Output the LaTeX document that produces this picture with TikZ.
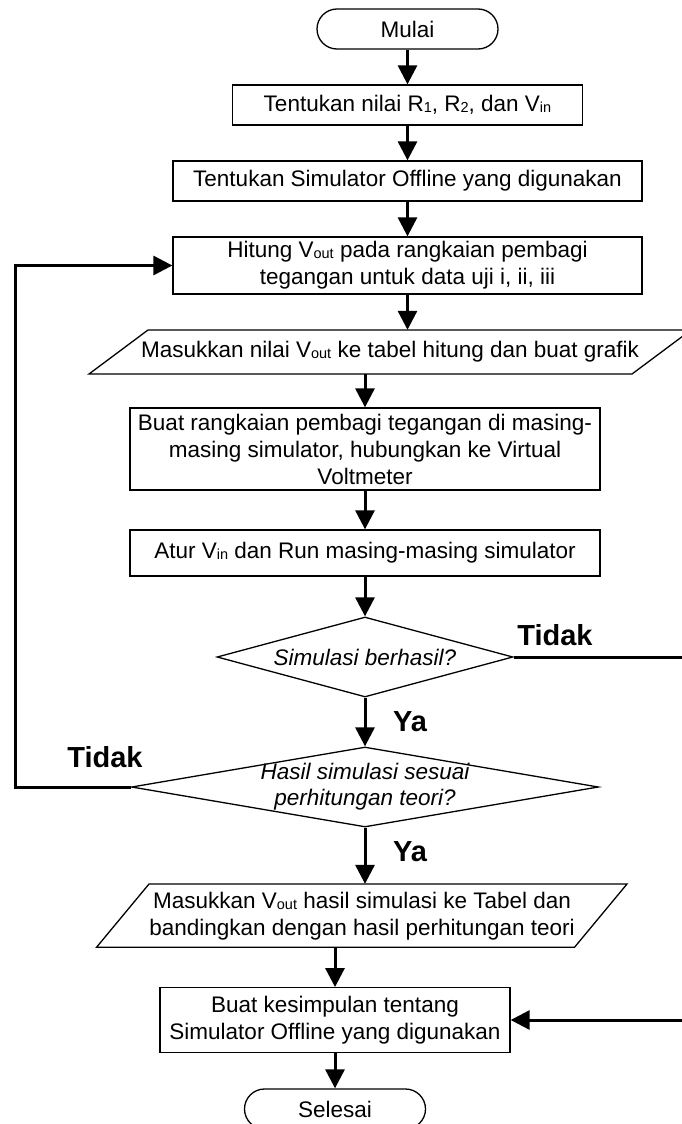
\documentclass[tikz,border=0pt]{standalone}
\usepackage{fontspec}
\setmainfont{Liberation Sans}
\usetikzlibrary{arrows.meta,shapes.geometric}
\tikzset{
	process/.style={draw, line width=1.3pt, align=center, inner sep=2pt},
	terminal/.style={draw, line width=1.3pt, rounded corners=20pt, minimum width=181pt, minimum height=40pt},
	decision/.style={draw, diamond, line width=1.3pt, inner sep=0pt, minimum height=80pt},
	flow/.style={line width=3pt, -{Triangle[width=19pt,length=19pt]}},
	answer/.style={font=\fontsize{29}{30}\selectfont\bfseries}
}
\newcommand{\subs}[1]{\raisebox{-1pt}{\fontsize{14.5}{15}\selectfont #1}}

\begin{document}
\begin{tikzpicture}[x=1pt, y=-1pt, font=\fontsize{22.5}{27}\selectfont]

			\useasboundingbox (0,0) rectangle (681,1124);

			% Start and first steps
			\node[terminal] (mulai) at (407.5,29) {Mulai};
			\node[process, minimum width=350pt, minimum height=40pt] (nilai) at (407.5,105) {Tentukan nilai R\subs{1}, R\subs{2}, dan V\subs{in}};
			\node[process, minimum width=469pt, minimum height=40pt] (pilih) at (407.5,181) {Tentukan Simulator Offline yang digunakan};
			\node[process, minimum width=469pt, minimum height=57pt] (hitung) at (407.5,265.5) {Hitung V\subs{out} pada rangkaian pembagi\\tegangan untuk data uji i, ii, iii};

			% Input/output: table and graph
			\draw[line width=1.3pt] (148,330) -- (691,330) -- (632,374) -- (89,374) -- cycle;
			\node[minimum height=44pt, inner sep=0pt] (tabel) at (390,352) {Masukkan nilai V\subs{out} ke tabel hitung dan buat grafik};

			\node[process, minimum width=470pt, minimum height=82pt] (rangkai) at (365,449) {Buat rangkaian pembagi tegangan di masing-\\masing simulator, hubungkan ke Virtual\\Voltmeter};
			\node[process, minimum width=470pt, minimum height=46pt] (atur) at (365,553) {Atur V\subs{in} dan Run masing-masing simulator};

			% Decisions
			\node[decision, aspect=3.7, minimum width=296pt, font=\fontsize{22.5}{27}\selectfont\itshape] (berhasil) at (365,657) {Simulasi berhasil?};
			\node[decision, aspect=5.84, minimum width=467pt] (sesuai) at (365,787) {};
			\node[align=center, font=\fontsize{22.5}{26}\selectfont\itshape] (sesuaitxt) at (sesuai) {Hasil simulasi sesuai\\perhitungan teori?};

			% Input/output: compare with theory
			\draw[line width=1.3pt] (149,884) -- (627,884) -- (574.5,947.3) -- (96.5,947.3) -- cycle;
			\node[align=center, minimum height=63.3pt, inner sep=0pt] (banding) at (362,915.7) {Masukkan V\subs{out} hasil simulasi ke Tabel dan\\bandingkan dengan hasil perhitungan teori};

			\node[process, minimum width=350pt, minimum height=64.6pt] (simpul) at (335,1020) {Buat kesimpulan tentang\\Simulator Offline yang digunakan};
			\node[terminal] (selesai) at (335,1109) {Selesai};

			% Main flow
			\draw[flow] (mulai) -- (nilai);
			\draw[flow] (nilai) -- (pilih);
			\draw[flow] (pilih) -- (hitung);
			\draw[flow] (hitung.south) -- (hitung.south |- tabel.north);
			\draw[flow] (rangkai.north |- tabel.south) -- (rangkai.north);
			\draw[flow] (rangkai) -- (atur);
			\draw[flow] (atur) -- (berhasil);
			\draw[flow] (berhasil) -- (sesuai);
			\draw[flow] (sesuai.south) -- (sesuai.south |- banding.north);
			\draw[flow] (simpul.north |- banding.south) -- (simpul.north);
			\draw[flow] (simpul) -- (selesai);

			% Loops back
			\coordinate (kanan) at (684,657);
			\draw[flow] (berhasil.east) -- (kanan) |- (simpul.east);
			\coordinate (kiri) at (15,787);
			\draw[flow] (sesuai.west) -- (kiri) |- (hitung.west);

			% Branch labels
			\node[answer] (tidakkanan) at (555,635) {Tidak};
			\node[answer] (yaatas) at (410,722) {Ya};
			\node[answer] (tidakkiri) at (105,757) {Tidak};
			\node[answer] (yabawah) at (410,852) {Ya};

		\end{tikzpicture}
\end{document}
